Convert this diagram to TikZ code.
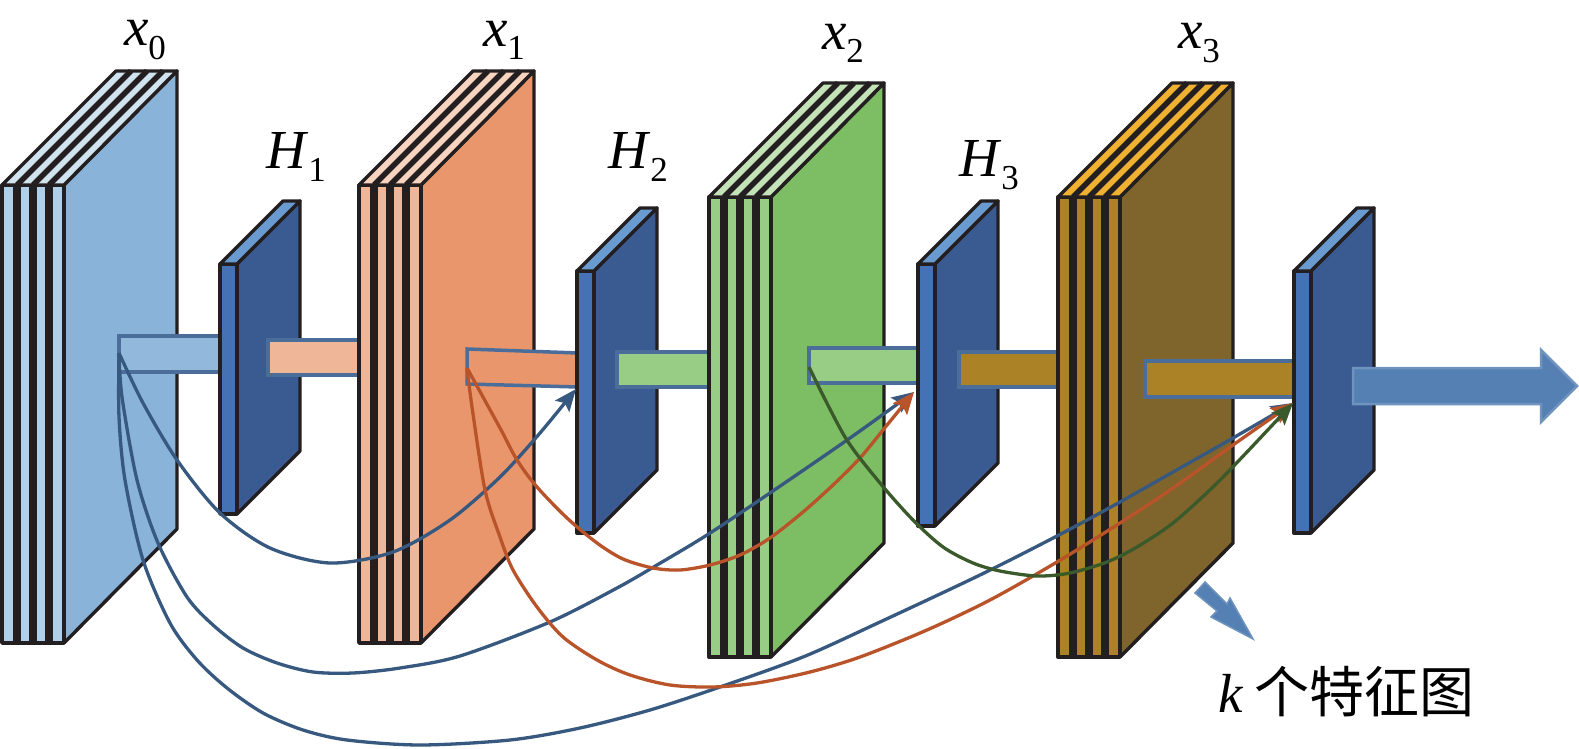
\documentclass[tikz,border=0pt]{standalone}
\usepackage{fontspec}
\setmainfont{Liberation Serif}
\newfontfamily\cjk{Noto Sans CJK SC}
\usetikzlibrary{arrows.meta,positioning}
\definecolor{ink}{HTML}{231F20}
\definecolor{barline}{HTML}{4A6D9A}
\definecolor{blueside}{HTML}{B0CFE8}
\definecolor{blueface}{HTML}{8AB3DA}
\definecolor{bluetop}{HTML}{D0E3EF}
\definecolor{bluebar}{HTML}{92B8DC}
\definecolor{redside}{HTML}{EFB798}
\definecolor{redface}{HTML}{E9966D}
\definecolor{redtop}{HTML}{F8D4C0}
\definecolor{greenside}{HTML}{97CD84}
\definecolor{greenface}{HTML}{7DBD63}
\definecolor{greentop}{HTML}{C5E3B8}
\definecolor{brownside}{HTML}{AB8225}
\definecolor{brownface}{HTML}{7F652B}
\definecolor{browntop}{HTML}{F0B030}
\definecolor{plateside}{HTML}{4472B4}
\definecolor{plateface}{HTML}{3A5B91}
\definecolor{platetop}{HTML}{6A9BD0}
\definecolor{outblue}{HTML}{5580B3}
\definecolor{linkblue}{HTML}{37587F}
\definecolor{linkred}{HTML}{B9532A}
\definecolor{linkgreen}{HTML}{3A5A2B}
\tikzset{
  edgeline/.style={draw=ink,line width=3.4pt,line join=round},
  stripeline/.style={draw=ink,line width=7.5pt},
  slantline/.style={draw=ink,line width=5.5pt},
  flatbar/.style={draw=barline,line width=3.5pt},
  linkline/.style={line width=3.3pt,-{Stealth[length=22pt,width=18pt,inset=4pt]}},
  titlelabel/.style={inner sep=0pt,font=\fontsize{55}{55}\selectfont},
}
% left, top, height, side colour, face colour, top colour
\newcommand{\featblock}[6]{
  \filldraw[edgeline,fill=#5] (#1+62,#2) -- (#1+175,#2-114) -- (#1+175,#2+#3-114) -- (#1+62,#2+#3) -- cycle;
  \filldraw[edgeline,fill=#4] (#1,#2) rectangle (#1+62,#2+#3);
  \filldraw[edgeline,fill=#6] (#1,#2) -- (#1+114,#2-114) -- (#1+175,#2-114) -- (#1+62,#2) -- cycle;
  \foreach \s in {15,31,47} {
    \draw[stripeline] (#1+\s,#2) -- ++(0,#3);
    \draw[slantline] (#1+\s,#2) -- ++(114,-114);
  }
}
% left, top, height
\newcommand{\hplate}[3]{
  \filldraw[edgeline,fill=plateface] (#1+17,#2) -- (#1+80,#2-63) -- (#1+80,#2+#3-63) -- (#1+17,#2+#3) -- cycle;
  \filldraw[edgeline,fill=plateside] (#1,#2) rectangle (#1+17,#2+#3);
  \filldraw[edgeline,fill=platetop] (#1,#2) -- (#1+63,#2-63) -- (#1+80,#2-63) -- (#1+17,#2) -- cycle;
}
\newcommand{\sublabel}[2]{\textit{#1}\raisebox{-0.24em}{\fontsize{35}{35}\selectfont #2}}
\begin{document}
\begin{tikzpicture}[x=1pt,y=-1pt]
  \useasboundingbox (0,0) rectangle (1579,749);
  \fill[white] (0,0) rectangle (1579,749);
  % first block
  \featblock{2}{185}{458}{blueside}{blueface}{bluetop}
  \filldraw[flatbar,fill=bluebar] (221,336) -- (119,336) -- (119,372) -- (221,372);
  \hplate{220}{264}{250}
  \filldraw[flatbar,fill=redside] (359,340) -- (268,340) -- (268,375) -- (359,375);
  % second block
  \featblock{359}{185}{458}{redside}{redface}{redtop}
  \filldraw[flatbar,fill=redface] (578,353) -- (467,349) -- (467,384) -- (578,387);
  \hplate{577}{271}{262}
  \filldraw[flatbar,fill=greenside] (711,352) -- (617,352) -- (617,387) -- (711,387);
  % third block
  \featblock{709}{197}{460}{greenside}{greenface}{greentop}
  \filldraw[flatbar,fill=greenside] (919,348) -- (809,348) -- (809,383) -- (919,383);
  \hplate{918}{264}{262}
  \filldraw[flatbar,fill=brownside] (1059,352) -- (959,352) -- (959,387) -- (1059,387);
  % fourth block
  \featblock{1058}{197}{460}{brownside}{brownface}{browntop}
  \filldraw[flatbar,fill=brownside] (1295,361) -- (1145,361) -- (1145,397) -- (1295,397);
  \hplate{1294}{271}{262}
  % wide output arrow
  \filldraw[draw=outblue!85!white,line width=2.5pt,fill=outblue] (1353,368) -- (1541,368) -- (1541,350) -- (1577,386) -- (1541,422) -- (1541,404) -- (1353,404) -- cycle;
  % small arrow
  \filldraw[draw=outblue!85!white,line width=1.5pt,fill=outblue] (1205,582) -- (1227,604) -- (1230,598) -- (1253,639) -- (1211,617) -- (1217,611) -- (1195,593) -- cycle;
  % labels
  \node[titlelabel] (labelxzero) at (145,40) {\sublabel{x}{0}};
  \node[titlelabel] (labelxone) at (504,40) {\sublabel{x}{1}};
  \node[titlelabel] (labelxtwo) at (843,43) {\sublabel{x}{2}};
  \node[titlelabel] (labelxthree) at (1199,43) {\sublabel{x}{3}};
  \node[titlelabel] (labelhone) at (296,157) {\sublabel{H}{1}};
  \node[titlelabel] (labelhtwo) at (638,157) {\sublabel{H}{2}};
  \node[titlelabel] (labelhthree) at (989,165) {\sublabel{H}{3}};
  \node[inner sep=0pt,anchor=west] (labelmaps) at (1218,692) {\fontsize{55}{55}\selectfont\textit{k}\hspace{0.2em}\cjk 个特征图};
  % link ends
  \coordinate (srcZero) at (119,353);
  \coordinate (srcOne) at (467,368);
  \coordinate (srcTwo) at (809,367);
  \coordinate (tgtTwo) at (576,389);
  \coordinate (tgtThree) at (914,392);
  \coordinate (tgtFour) at (1293,403);
  % links
  \draw[linkline,linkblue] plot[smooth,tension=0.5] coordinates {(srcZero) (143,403) (177,460) (220,513) (270,548) (330,563) (393,552) (450,520) (500,477) (540,433) (tgtTwo)};
  \draw[linkline,linkblue] plot[smooth,tension=0.5] coordinates {(srcZero) (122,397) (137,480) (158,543) (187,597) (213,625) (243,648) (277,663) (313,672) (353,673) (400,668) (460,656) (550,622) (617,588) (657,565) (707,535) (767,495) (850,438) (tgtThree)};
  \draw[linkline,linkblue] plot[smooth,tension=0.5] coordinates {(srcZero) (119,417) (125,480) (143,560) (170,623) (197,660) (227,688) (263,713) (303,730) (347,740) (420,745) (510,740) (580,728) (650,710) (720,687) (803,657) (880,622) (980,575) (1057,536) (1120,502) (1173,472) (1233,438) (tgtFour)};
  \draw[linkline,linkred] plot[smooth,tension=0.5] coordinates {(srcOne) (500,428) (517,460) (537,487) (567,518) (597,543) (623,559) (653,568) (680,570) (710,565) (740,555) (770,538) (803,512) (833,485) (860,458) (883,430) (tgtThree)};
  \draw[linkline,linkred] plot[smooth,tension=0.5] coordinates {(srcOne) (472,407) (485,490) (500,537) (513,570) (537,607) (563,637) (597,660) (630,675) (670,685) (713,687) (757,683) (810,672) (860,657) (927,630) (990,600) (1057,562) (1120,523) (1173,488) (1233,445) (tgtFour)};
  \draw[linkline,linkgreen] plot[smooth,tension=0.5] coordinates {(srcTwo) (845,437) (880,483) (913,520) (943,547) (973,563) (1000,571) (1037,576) (1070,573) (1107,562) (1137,547) (1173,523) (1213,487) (1247,452) (tgtFour)};
\end{tikzpicture}
\end{document}
